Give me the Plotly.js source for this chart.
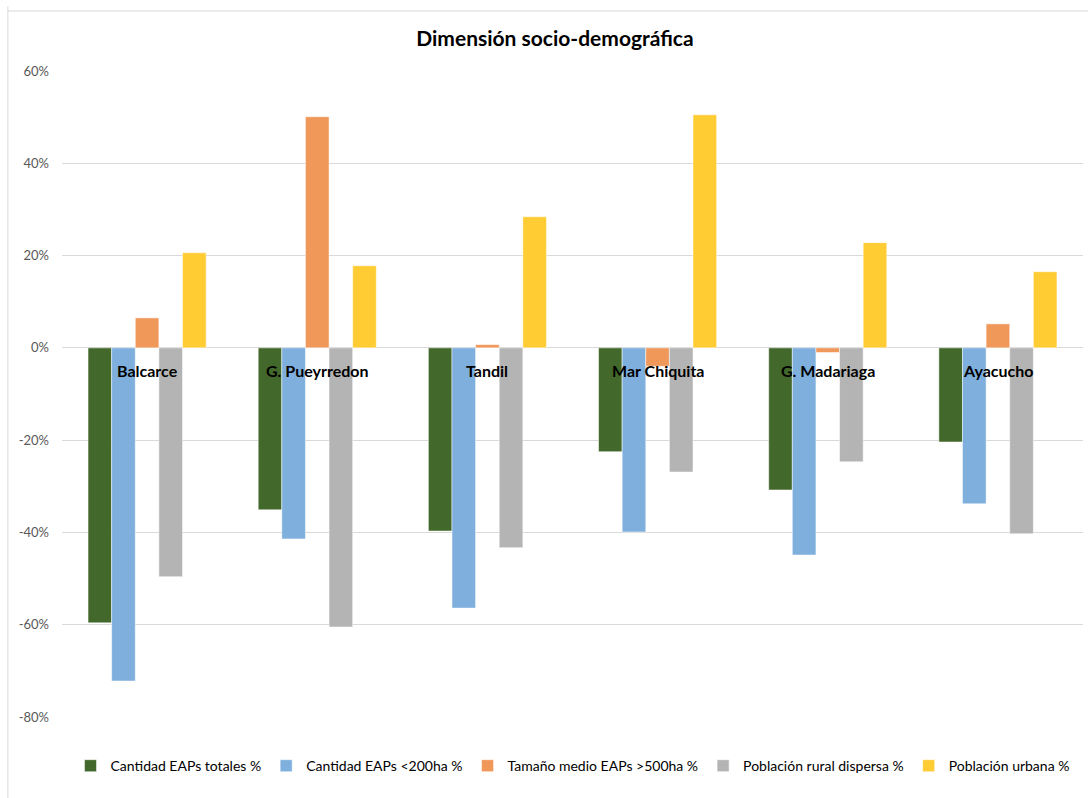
<!DOCTYPE html>
<html>
<head>
<meta charset="utf-8">
<script src="https://cdn.plot.ly/plotly-3.0.1.min.js"></script>
<style>
html,body{margin:0;padding:0;background:#fff;}
#chart{width:1088px;height:798px;}
</style>
</head>
<body>
<div id="chart"></div>
<script>
const categories = ["Balcarce", "G. Pueyrredon", "Tandil", "Mar Chiquita", "G. Madariaga", "Ayacucho"];
const seriesNames = ["Cantidad EAPs totales %", "Cantidad EAPs <200ha %", "Tamaño medio EAPs >500ha %", "Población rural dispersa %", "Población urbana %"];
const eapsTotales = [-59.6, -35.1, -39.7, -22.5, -30.8, -20.4];
const eaps200 = [-72.2, -41.4, -56.4, -39.9, -44.9, -33.8];
const tamanoMedio = [6.5, 50.1, 0.7, -4.0, -1.0, 5.2];
const ruralDispersa = [-49.6, -60.5, -43.3, -26.9, -24.7, -40.3];
const urbana = [20.6, 17.8, 28.4, 50.5, 22.8, 16.5];
const yTickVals = [-80, -60, -40, -20, 0, 20, 40, 60];
const colors = ["#43682B", "#7EAFDD", "#F0975A", "#B4B4B4", "#FFCC33"];

const allSeries = [eapsTotales, eaps200, tamanoMedio, ruralDispersa, urbana];
const traces = allSeries.map((vals, i) => ({
  type: "bar",
  name: seriesNames[i],
  x: categories,
  y: vals,
  marker: {color: colors[i], line: {color: "#ffffff", width: 0.5}},
  hoverinfo: "x+y+name"
}));

const annotations = categories.map(c => ({
  x: c, y: 0, xref: "x", yref: "y",
  text: "<b>" + c + "</b>",
  showarrow: false,
  yshift: -23,
  font: {family: "Lato, 'Open Sans', sans-serif", size: 16, color: "#000"}
}));

const layout = {
  width: 1088, height: 798,
  margin: {l: 62, r: 5, t: 71, b: 81},
  paper_bgcolor: "#fff", plot_bgcolor: "#fff",
  title: {text: "<b>Dimensión socio-demográfica</b>", x: 0.51, xanchor: "center", y: 0.951, yanchor: "middle",
          font: {family: "Lato, 'Open Sans', sans-serif", size: 21, color: "#000"}},
  barmode: "group",
  bargap: 0.306,
  bargroupgap: 0,
  xaxis: {showticklabels: false, showgrid: false, zeroline: false, showline: false, ticks: ""},
  yaxis: {range: [-80, 60], tickvals: yTickVals, ticktext: yTickVals.map(v => v + "%"),
          showgrid: true, gridcolor: "#D9D9D9", gridwidth: 1,
          zeroline: true, zerolinecolor: "#D9D9D9", zerolinewidth: 1,
          showline: false, ticks: "", ticklabelstandoff: 12,
          tickfont: {family: "Lato, 'Open Sans', sans-serif", size: 13, color: "#595959"}},
  showlegend: true,
  legend: {orientation: "h", x: 0.5, xanchor: "center", y: -0.076, yanchor: "middle",
           font: {family: "Lato, 'Open Sans', sans-serif", size: 14, color: "#000"},
           itemwidth: 30, tracegroupgap: 0},
  annotations: annotations,
  shapes: [
    {type: "line", xref: "paper", yref: "paper", x0: -0.053, x1: -0.053, y0: -0.15, y1: 1.1, line: {color: "#D9D9D9", width: 1}},
    {type: "line", xref: "paper", yref: "paper", x0: -0.053, x1: 1.01, y0: 1.0929, y1: 1.0929, line: {color: "#D9D9D9", width: 1}}
  ]
};

Plotly.newPlot("chart", traces, layout, {displayModeBar: false, staticPlot: false});
</script>
</body>
</html>
